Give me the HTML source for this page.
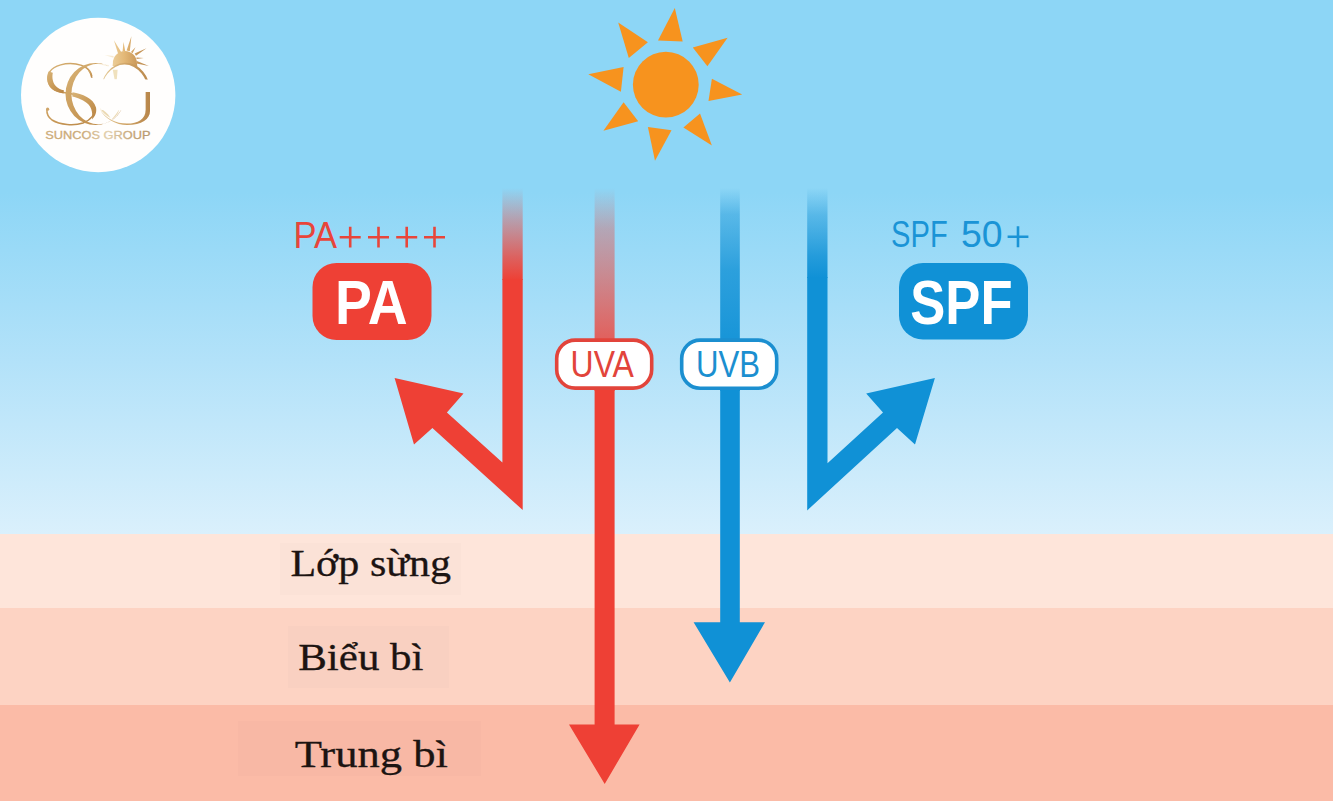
<!DOCTYPE html>
<html>
<head>
<meta charset="utf-8">
<title>PA / SPF</title>
<style>
html,body{margin:0;padding:0;background:#8ed6f6;}
body{width:1333px;height:801px;overflow:hidden;position:relative;font-family:"Liberation Sans",sans-serif;}
svg{position:absolute;left:0;top:0;display:block;}
.sans{font-family:"Liberation Sans",sans-serif;}
.serif{font-family:"Liberation Serif",serif;}
</style>
</head>
<body>
<svg width="1333" height="801" viewBox="0 0 1333 801">
<defs>
  <linearGradient id="sky" x1="0" y1="0" x2="0" y2="1">
    <stop offset="0" stop-color="#8dd6f6"/>
    <stop offset="0.36" stop-color="#8dd6f6"/>
    <stop offset="0.68" stop-color="#b3e2f9"/>
    <stop offset="1" stop-color="#daf0fc"/>
  </linearGradient>
  <linearGradient id="redfade1" x1="0" y1="0" x2="0" y2="1">
    <stop offset="0" stop-color="#ee4035" stop-opacity="0"/>
    <stop offset="0.35" stop-color="#ee4035" stop-opacity="0.38"/>
    <stop offset="0.75" stop-color="#ee4035" stop-opacity="0.78"/>
    <stop offset="1" stop-color="#ee4035" stop-opacity="1"/>
  </linearGradient>
  <linearGradient id="redfade2" x1="0" y1="0" x2="0" y2="1">
    <stop offset="0" stop-color="#ee4035" stop-opacity="0"/>
    <stop offset="0.2" stop-color="#ee4035" stop-opacity="0.33"/>
    <stop offset="0.75" stop-color="#ee4035" stop-opacity="0.8"/>
    <stop offset="1" stop-color="#ee4035" stop-opacity="1"/>
  </linearGradient>
  <linearGradient id="bluefade1" x1="0" y1="0" x2="0" y2="1">
    <stop offset="0" stop-color="#1091d6" stop-opacity="0"/>
    <stop offset="0.3" stop-color="#1091d6" stop-opacity="0.45"/>
    <stop offset="0.75" stop-color="#1091d6" stop-opacity="0.85"/>
    <stop offset="1" stop-color="#1091d6" stop-opacity="1"/>
  </linearGradient>
  <linearGradient id="bluefade2" x1="0" y1="0" x2="0" y2="1">
    <stop offset="0" stop-color="#1091d6" stop-opacity="0"/>
    <stop offset="0.13" stop-color="#1091d6" stop-opacity="0.45"/>
    <stop offset="0.4" stop-color="#1091d6" stop-opacity="0.8"/>
    <stop offset="0.75" stop-color="#1091d6" stop-opacity="0.95"/>
    <stop offset="1" stop-color="#1091d6" stop-opacity="1"/>
  </linearGradient>
  <linearGradient id="gold" x1="0" y1="0" x2="1" y2="1">
    <stop offset="0" stop-color="#d8b377"/>
    <stop offset="0.5" stop-color="#c99a58"/>
    <stop offset="1" stop-color="#b98545"/>
  </linearGradient>
<linearGradient id="gold2" x1="0" y1="0" x2="1" y2="0">
    <stop offset="0" stop-color="#e7cf9c"/>
    <stop offset="0.5" stop-color="#d0a466"/>
    <stop offset="1" stop-color="#b8864a"/>
  </linearGradient>
  <linearGradient id="goldsun" gradientUnits="userSpaceOnUse" x1="104" y1="0" x2="149" y2="0">
    <stop offset="0" stop-color="#f2ddb0"/>
    <stop offset="0.45" stop-color="#e3b877"/>
    <stop offset="0.75" stop-color="#c99758"/>
    <stop offset="1" stop-color="#b98a50"/>
  </linearGradient>
  <clipPath id="clipC"><polygon points="40,50 107.6,50 107.6,80 130,80 130,140 40,140"/></clipPath>
  <clipPath id="clipGtop"><rect x="95" y="55" width="60" height="24.6"/></clipPath>
<linearGradient id="goldtxt" gradientUnits="userSpaceOnUse" x1="0" y1="0" x2="94" y2="0">
    <stop offset="0" stop-color="#cdac7a"/>
    <stop offset="0.35" stop-color="#c9a877"/>
    <stop offset="0.6" stop-color="#e2d0ae"/>
    <stop offset="0.8" stop-color="#c7a77a"/>
    <stop offset="1" stop-color="#b6966c"/>
  </linearGradient>
</defs>

<!-- sky -->
<rect x="0" y="0" width="1333" height="534" fill="url(#sky)"/>
<!-- skin layers -->
<rect x="0" y="534" width="1333" height="74" fill="#fee5da"/>
<rect x="0" y="608" width="1333" height="98" fill="#fdd3c3"/>
<rect x="0" y="705" width="1333" height="96" fill="#fbbba7"/>
<!-- label boxes -->
<rect x="280" y="543" width="181" height="52" fill="#fbe2d7"/>
<rect x="288" y="626" width="161" height="62" fill="#f9d0c1"/>
<rect x="238" y="721" width="243" height="55" fill="#f8b8a5"/>

<!-- sun -->
<g fill="#f7931e">
  <circle cx="665.8" cy="84.7" r="32.9"/>
  <polygon points="674.8,7.9 658,40.4 682.7,41.6"/>
  <polygon points="727.6,37.8 692.8,47.6 707.4,66.3"/>
  <polygon points="742.2,94.4 711.9,78.7 708.5,101.1"/>
  <polygon points="711.9,145.6 700,113.5 683.4,127.6"/>
  <polygon points="655,160.7 647.9,127 671.5,130.3"/>
  <polygon points="603.4,130.8 623.6,102.2 638.2,121.3"/>
  <polygon points="588.3,74.2 623.6,67 620.9,91.7"/>
  <polygon points="618.2,22.5 647.9,42.2 628.8,58"/>
</g>

<!-- red bounce arrow (PA) -->
<rect x="502.4" y="188" width="20.3" height="92" fill="url(#redfade1)"/>
<polygon fill="#ee4035" points="502.4,279 522.7,279 522.7,510 432.4,428 414,444.4 394.6,378.1 463.5,393.6 446.9,412.4 502.4,462.6"/>

<!-- UVA arrow -->
<rect x="594.6" y="188" width="20" height="203" fill="url(#redfade2)"/>
<polygon fill="#ee4035" points="594.6,389 614.6,389 614.6,724.4 639.6,724.4 604.7,784 569,724.4 594.6,724.4"/>

<!-- UVB arrow -->
<rect x="720.2" y="188" width="19.6" height="203" fill="url(#bluefade2)"/>
<polygon fill="#1091d6" points="720.2,389 739.8,389 739.8,622.2 765,622.2 729.9,682.5 693.6,622.2 720.2,622.2"/>

<!-- blue bounce arrow (SPF) -->
<rect x="807.2" y="188" width="20.3" height="90" fill="url(#bluefade1)"/>
<polygon fill="#1091d6" points="807.2,277 827.5,277 827.5,463.2 883,412.4 866.2,393.6 934.9,378.1 915,444.4 897,428 807.2,510.4"/>

<!-- UVA pill -->
<rect x="556.7" y="340.1" width="95" height="48" rx="18.5" ry="18.5" fill="#ffffff" stroke="#e2443b" stroke-width="3.6"/>
<g transform="translate(570.6,377.3) scale(0.912,1.03)"><text class="sans" x="0" y="0" font-size="35" fill="#e2443b">UVA</text></g>
<!-- UVB pill -->
<rect x="681.7" y="340.1" width="95" height="48.2" rx="18.5" ry="18.5" fill="#ffffff" stroke="#1b8fd0" stroke-width="3.6"/>
<g transform="translate(695.9,377.3) scale(0.89,1.03)"><text class="sans" x="0" y="0" font-size="35" fill="#1b8fd0">UVB</text></g>

<!-- PA -->
<g transform="translate(293.5,247.5) scale(0.988,1.05)"><text class="sans" x="0" y="0" font-size="35" fill="#e8453a">PA</text></g>
<g stroke="#e8453a" stroke-width="2.6" fill="none">
  <path d="M339.7 237.2H360.7M350.2 226.8V247.6"/>
  <path d="M368 237.2H389M378.5 226.8V247.6"/>
  <path d="M396.2 237.2H417.2M406.7 226.8V247.6"/>
  <path d="M424 237.2H445M434.5 226.8V247.6"/>
</g>
<rect x="312.5" y="263" width="119" height="77" rx="24" ry="24" fill="#ee4035"/>
<g transform="translate(334.9,324) scale(0.891,1.02)"><text class="sans" x="0" y="0" font-size="62" font-weight="bold" fill="#ffffff">PA</text></g>

<!-- SPF -->
<g transform="translate(891.1,247.1) scale(0.831,1.05)"><text class="sans" x="0" y="0" font-size="35" fill="#1a94d6">SPF</text></g>
<g transform="translate(960.9,247.1) scale(1.069,1.05)"><text class="sans" x="0" y="0" font-size="35" fill="#1a94d6">50</text></g>
<path d="M1007.6 236.7H1028.4M1018 226.3V247.2" stroke="#1a94d6" stroke-width="2.6" fill="none"/>
<rect x="899" y="263" width="129" height="76.5" rx="24" ry="24" fill="#1091d6"/>
<g transform="translate(910.3,323.8) scale(0.848,1.02)"><text class="sans" x="0" y="0" font-size="62" font-weight="bold" fill="#ffffff">SPF</text></g>

<!-- layer labels -->
<g transform="translate(290.4,576.3) scale(1.137,1.0)"><text class="serif" x="0" y="0" font-size="37" fill="#1c1412" stroke="#1c1412" stroke-width="0.3">Lớp sừng</text></g>
<g transform="translate(298.2,669.5) scale(1.162,1.0)"><text class="serif" x="0" y="0" font-size="37" fill="#1c1412" stroke="#1c1412" stroke-width="0.3">Biểu bì</text></g>
<g transform="translate(294.7,766.5) scale(1.205,1.0)"><text class="serif" x="0" y="0" font-size="37" fill="#1c1412" stroke="#1c1412" stroke-width="0.3">Trung bì</text></g>

<!-- logo -->
<circle cx="98.2" cy="95" r="77.2" fill="#fffefd"/>
<g id="logo">
  <!-- sunburst -->
  <g fill="url(#goldsun)">
    <path d="M112.6 66 L112.9 63 A12 12 0 0 1 136.9 63 L137.4 67Z"/>
    <polygon points="113.9,40.3 121.5,52.5 118.3,54.2"/>
    <polygon points="123.5,42 125.2,51 122.6,51.2"/>
    <polygon points="131.4,36.2 129.8,51.2 126.6,50.6"/>
    <polygon points="135.5,47.2 132.6,53.2 130.9,52"/>
    <polygon points="146.5,48.2 136,55.8 134.6,53.6"/>
    <polygon points="143.7,58.1 136.6,58.9 136.5,57.6"/>
    <polygon points="148.9,66 136.5,63.4 136.9,61"/>
    <polygon points="104.6,55 113.6,56 113.4,57.8" opacity="0.45"/>
    <polygon points="95.5,63.4 109,65 108.6,66.6" opacity="0.35"/>
  </g>
  <ellipse cx="124.8" cy="94.6" rx="24.6" ry="31" fill="#fffefd" clip-path="url(#clipGtop)"/>
  <!-- S -->
  <path d="M91.8 76 C90.5 69.5 84 65 76 64 C66 62.6 54 65 49.6 72 C46.6 78 48 86 55 90 C60 92.5 68 93 75 94.5 C84 96.5 93 101 94.5 108 C95.5 114 91 120 83 123 C74 126 60 125 52 120 C48.5 117.5 46.6 113 46.9 109" fill="none" stroke="url(#gold)" stroke-width="1.5"/>
  <path d="M48.6 71.5 C45.5 78 47 86.5 54.5 90.8 C57.5 92.3 60.5 93 63.5 93.4 L63.9 90.2 C60.5 89.6 58.5 88.6 56.8 87 C52.6 83.6 51.8 77.5 52.8 72.8Z" fill="url(#gold)"/>
  <path d="M72.5 92.3 C82 94 93.5 98 96 107.5 C97 112.5 95 116.5 92 119.5 C92.8 114 92 108.5 88.5 104.5 C84.5 100.5 78 98 72.3 96.6Z" fill="url(#gold)"/>
  <path d="M89.2 70.5 C91 72.5 92.2 75 92.6 77.8 L91 77.8 C90.4 75 89.6 72.8 88.2 71Z" fill="url(#gold)"/>
  <circle cx="47.6" cy="109.2" r="1.6" fill="#cfa468"/>
  <!-- C -->
  <path clip-path="url(#clipC)" fill-rule="evenodd" fill="url(#gold)" d="M65.5 94 A30 31 0 1 0 125.5 94 A30 31 0 1 0 65.5 94Z M71.4 94 A27 30.3 0 1 0 125.4 94 A27 30.3 0 1 0 71.4 94Z"/>
  <path d="M112.8 69.8 L117.6 69.8 L116.8 79.4 L114.6 79.4Z" fill="#ecd9ad" opacity="0.8"/>
  <!-- G -->
  <path clip-path="url(#clipGtop)" fill-rule="evenodd" fill="url(#gold2)" d="M100.2 94 A25.2 31.3 0 1 0 150.6 94 A25.2 31.3 0 1 0 100.2 94Z M100.6 95 A24 30.4 0 1 0 148.6 95 A24 30.4 0 1 0 100.6 95Z"/>
  <path d="M145.6 92 H150 V111 C150 119 142 125 127 125 C116 125 105 119 100 109.5 C106 118.5 116 123.6 127 123.6 C138 123.6 145.6 119 145.6 110Z" fill="url(#gold2)"/>
  <!-- faint leaf strokes -->
  <path d="M100 108.5 C104 110 108 113.5 110.5 118 C106 115.5 102.5 112.5 100 108.5Z" fill="#e6cf9f" opacity="0.8"/>
  <path d="M119 109.5 C118.5 113.5 115.5 117.5 111 120 C115 115.5 117.5 112.5 119 109.5Z" fill="#e6cf9f" opacity="0.8"/>
  <!-- white patch -->
  <rect x="101.2" y="79.4" width="43.9" height="30.6" fill="#fffefd"/>
</g>
<g transform="translate(45.3,139) scale(1.112,1.0)"><text class="sans" x="0" y="0" font-size="11.5" fill="url(#goldtxt)" stroke="url(#goldtxt)" stroke-width="0.3">SUNCOS GROUP</text></g>
</svg>
</body>
</html>
